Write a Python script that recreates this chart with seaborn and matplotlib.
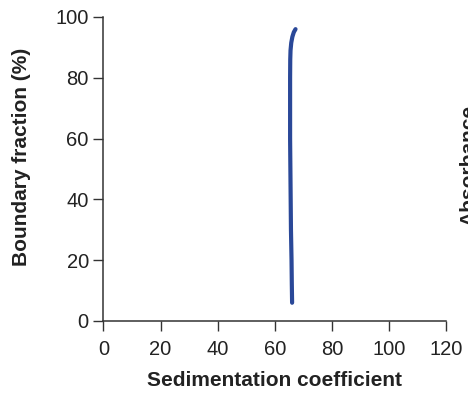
import matplotlib
matplotlib.use("Agg")
import matplotlib.pyplot as plt
import seaborn as sns
import pandas as pd

# Boundary fraction (%) vs. sedimentation coefficient
boundary_fraction = [6, 12, 20, 30, 40, 50, 60, 70, 80, 86, 89, 91.5, 93.5, 95, 96]
sed_coefficient = [66.0, 65.9, 65.8, 65.6, 65.5, 65.4, 65.3, 65.3, 65.3, 65.35, 65.45, 65.7, 66.1, 66.6, 67.2]

x_ticks = [0, 20, 40, 60, 80, 100, 120]
y_ticks = [0, 20, 40, 60, 80, 100]

df = pd.DataFrame({"s": sed_coefficient, "f": boundary_fraction})

sns.set_theme(style="ticks")
plt.rcParams["font.family"] = ["Liberation Sans", "DejaVu Sans"]

fig = plt.figure(figsize=(4.68, 3.94), dpi=100)
ax = fig.add_axes([0.221, 0.1853, 0.733, 0.7716])

sns.lineplot(data=df, x="s", y="f", sort=False, estimator=None, ax=ax,
             color="#2a4898", linewidth=3.0, solid_capstyle="round")

ax.set_xlim(0, 120)
ax.set_ylim(0, 100)
ax.set_xticks(x_ticks)
ax.set_yticks(y_ticks)

for side in ("top", "right"):
    ax.spines[side].set_visible(False)
for side in ("left", "bottom"):
    ax.spines[side].set_color("#333333")
    ax.spines[side].set_linewidth(1.1)
ax.tick_params(axis="both", direction="out", length=7.5, width=1.0,
               color="#333333", labelsize=14.5, labelcolor="#222222")
ax.tick_params(axis="x", pad=6)
ax.tick_params(axis="y", pad=3)

ax.set_xlabel("Sedimentation coefficient", fontsize=15, fontweight="bold", color="#222222")
ax.set_ylabel("Boundary fraction (%)", fontsize=15, fontweight="bold", color="#222222")
ax.xaxis.label.set_va("center")
ax.yaxis.label.set_va("center")
ax.xaxis.set_label_coords(0.5, -0.197)
ax.yaxis.set_label_coords(-0.238, 0.539)

# Neighbouring panel's axis title, running off the right edge
fig.text(0.982, 0.58, "Absorbance", rotation=90, ha="left", va="center",
         fontsize=15, fontweight="bold", color="#222222")

fig.savefig("out.png", dpi=100)
